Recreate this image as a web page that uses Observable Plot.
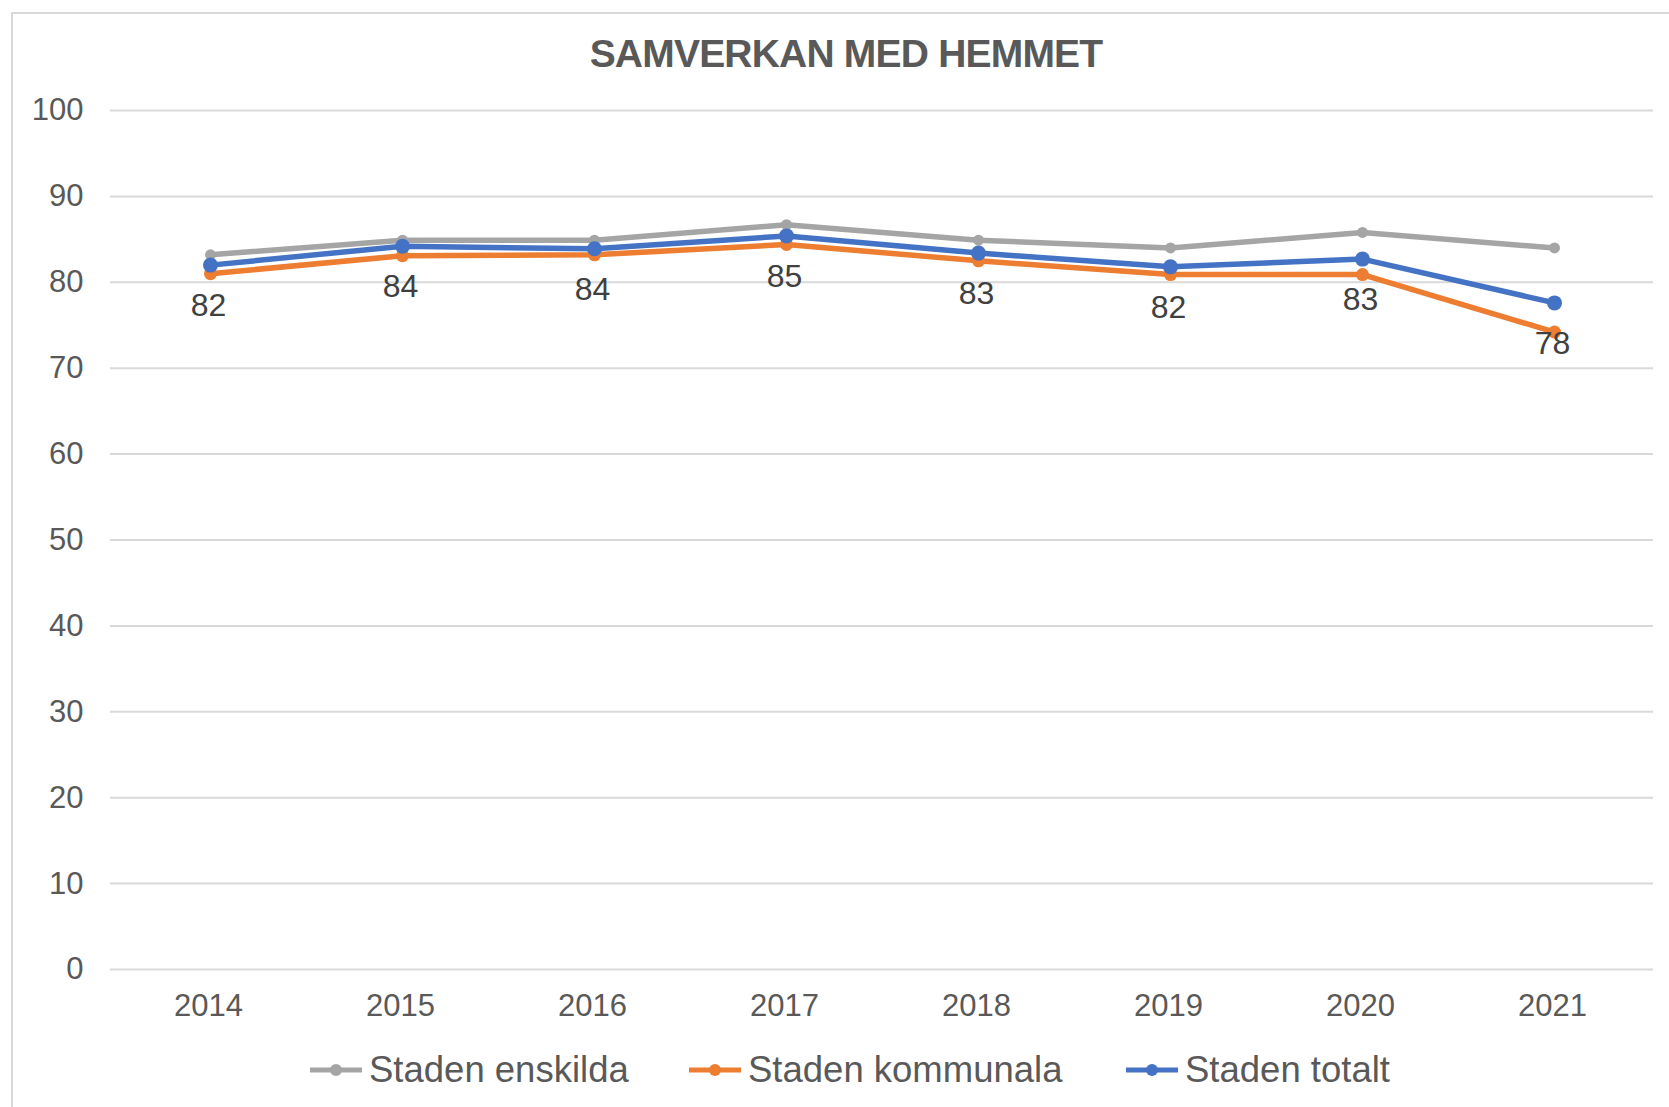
<!DOCTYPE html>
<html>
<head>
<meta charset="utf-8">
<script src="https://cdn.jsdelivr.net/npm/d3@7"></script>
<script src="https://cdn.jsdelivr.net/npm/@observablehq/plot@0.6"></script>
<style>
  html, body { margin: 0; padding: 0; background: #fff; }
  #wrap { position: relative; width: 1669px; height: 1107px; overflow: hidden; font-family: "Liberation Sans", Arial, sans-serif; }
  #frame { position: absolute; left: 11px; top: 12px; width: 1700px; height: 1200px; border-left: 2px solid #D9D9D9; border-top: 2px solid #D9D9D9; box-sizing: border-box; }
  #title { position: absolute; top: 33px; left: 0; width: 1692px; text-align: center; font-weight: bold; font-size: 39px; letter-spacing: -0.8px; color: #595959; line-height: 42px; }
  #chart { position: absolute; left: 0; top: 0; }
  .leg { position: absolute; top: 1048px; height: 44px; display: flex; align-items: center; font-size: 36.5px; color: #595959; white-space: nowrap; }
  .leg svg { margin-right: 6px; }
</style>
</head>
<body>
<div id="wrap">
  <div id="frame"></div>
  <div id="chart"></div>
  <div id="title"></div>
  <div id="legend"></div>
</div>
<script>
const title = "SAMVERKAN MED HEMMET";
const years = ["2014", "2015", "2016", "2017", "2018", "2019", "2020", "2021"];
const seriesNames = ["Staden enskilda", "Staden kommunala", "Staden totalt"];
const seriesColors = ["#A5A5A5", "#ED7D31", "#4472C4"];
const enskilda = [83.2, 84.9, 84.9, 86.7, 84.9, 84.0, 85.8, 84.0];
const kommunala = [81.0, 83.1, 83.2, 84.4, 82.5, 80.9, 80.9, 74.2];
const totalt = [82.0, 84.2, 83.9, 85.4, 83.4, 81.8, 82.7, 77.6];
const yTicks = [0, 10, 20, 30, 40, 50, 60, 70, 80, 90, 100];
const legendLeft = [309, 688, 1125];
const markerR = [5.5, 6.5, 7.5];

const seriesValues = [enskilda, kommunala, totalt];
const rows = [];
seriesNames.forEach((s, i) => years.forEach((y, j) => rows.push({series: s, year: y, value: seriesValues[i][j]})));

const marks = [
  Plot.gridY(yTicks, {stroke: "#D9D9D9", strokeOpacity: 1, strokeWidth: 2}),
  Plot.axisY(yTicks, {tickSize: 0, tickPadding: 27, fontSize: 31, fill: "#595959"}),
  Plot.axisX({tickSize: 0, tickPadding: 24, fontSize: 31, fill: "#595959", dx: -2})
];
seriesNames.forEach((s, i) => {
  const data = rows.filter(d => d.series === s);
  marks.push(Plot.line(data, {x: "year", y: "value", stroke: "series", strokeWidth: 5.5, strokeLinejoin: "round"}));
  marks.push(Plot.dot(data, {x: "year", y: "value", fill: "series", r: markerR[i]}));
});
marks.push(Plot.text(rows.filter(d => d.series === "Staden totalt"), {
  x: "year", y: "value", text: d => String(Math.round(d.value)), dy: 41, dx: -2, fontSize: 32, fill: "#404040"
}));

const chart = Plot.plot({
  width: 1669,
  height: 1107,
  marginLeft: 110,
  marginRight: 16,
  marginTop: 110,
  marginBottom: 138,
  style: {fontFamily: "'Liberation Sans', Arial, sans-serif", background: "transparent", overflow: "visible"},
  x: {type: "point", domain: years, padding: 0.5, label: null},
  y: {domain: [0, 100], label: null},
  color: {domain: seriesNames, range: seriesColors},
  marks
});
document.getElementById("chart").appendChild(chart);
document.getElementById("title").textContent = title;

const legend = document.getElementById("legend");
seriesNames.forEach((s, i) => {
  const div = document.createElement("div");
  div.className = "leg";
  div.style.left = legendLeft[i] + "px";
  div.innerHTML = `<svg width="54" height="20"><line x1="1" y1="10" x2="53" y2="10" stroke="${seriesColors[i]}" stroke-width="5"/><circle cx="27" cy="10" r="6" fill="${seriesColors[i]}"/></svg><span></span>`;
  div.querySelector("span").textContent = s;
  legend.appendChild(div);
});
</script>
</body>
</html>
